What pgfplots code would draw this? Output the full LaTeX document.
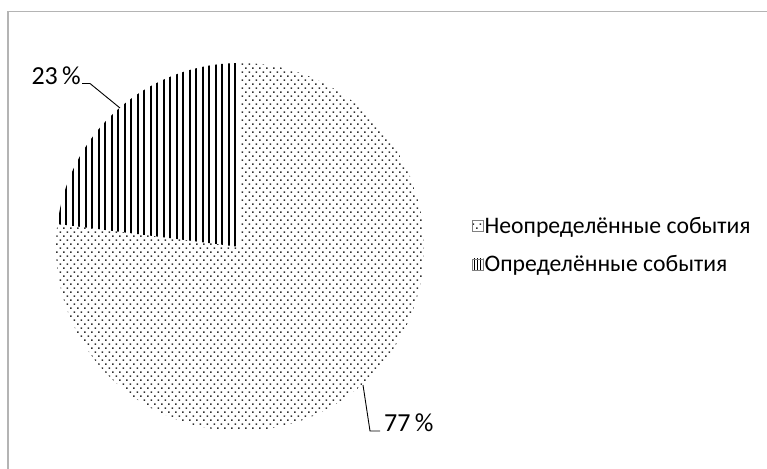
\documentclass[border=0pt]{standalone}
\usepackage{pgfplots}
\pgfplotsset{compat=1.18}
\usepackage{pgfplotstable}
\usepackage{fontspec}
\setmainfont{Carlito}
\usetikzlibrary{patterns}

% pie data (percent)
\pgfplotstableread{
name value
undef 77
def 23
}\piedata

% Excel-like fill patterns
\pgfdeclarepatternformonly{xldots}{\pgfqpoint{-1bp}{-1bp}}{\pgfqpoint{8bp}{9bp}}{\pgfqpoint{7bp}{8bp}}{%
  \pgfpathrectangle{\pgfqpoint{0bp}{0bp}}{\pgfqpoint{1.5bp}{1.5bp}}%
  \pgfpathrectangle{\pgfqpoint{3.5bp}{4bp}}{\pgfqpoint{1.5bp}{1.5bp}}%
  \pgfusepath{fill}}
\pgfdeclarepatternformonly{xlvlines}{\pgfqpoint{0bp}{-0.5bp}}{\pgfqpoint{6.5bp}{1.5bp}}{\pgfqpoint{6.5bp}{1bp}}{%
  \pgfpathrectangle{\pgfqpoint{0bp}{-0.2bp}}{\pgfqpoint{2bp}{1.4bp}}%
  \pgfusepath{fill}}
\pgfdeclarepatternformonly{xlvlinessmall}{\pgfqpoint{0bp}{-0.5bp}}{\pgfqpoint{3bp}{1.5bp}}{\pgfqpoint{3bp}{1bp}}{%
  \pgfpathrectangle{\pgfqpoint{0bp}{-0.2bp}}{\pgfqpoint{1bp}{1.4bp}}%
  \pgfusepath{fill}}

\definecolor{framegray}{HTML}{B4B4B4}
\definecolor{dotgray}{HTML}{303030}

\begin{document}
\begin{tikzpicture}
\useasboundingbox (0,0) rectangle (767bp,469bp);
\begin{axis}[
    at={(0,0)}, anchor=origin,
    scale only axis,
    width=767bp, height=469bp,
    xmin=0, xmax=767, ymin=0, ymax=469,
    hide axis,
    clip=false,
    font=\fontsize{26bp}{29bp}\selectfont,
    legend image code/.code={\draw[#1] (0bp,-5.5bp) rectangle (11bp,5.5bp);},
    legend style={draw=none, fill=none, at={(axis cs:472,224)}, anchor=west,
        inner sep=0pt, row sep=19bp, font=\fontsize{23.7bp}{27bp}\selectfont,
        nodes={inner sep=1bp}},
    legend cell align=left,
]
% frame (only top and left edges fall inside the picture)
\draw[framegray, line width=1.5bp] (axis cs:8,0) -- (axis cs:8,457.5) -- (axis cs:767,457.5);

\pgfplotstablegetelem{0}{value}\of\piedata \let\valA\pgfplotsretval
\pgfplotstablegetelem{1}{value}\of\piedata \let\valB\pgfplotsretval
\pgfmathsetmacro{\angA}{90-3.6*\valA}

% first slice clockwise from 12 o'clock
\fill[pattern=xldots, pattern color=dotgray] (axis cs:240,222) -- ++(90:184bp)
    arc[start angle=90, end angle=\angA, radius=184bp] -- cycle;
% second slice
\fill[pattern=xlvlines, pattern color=black] (axis cs:240,222) -- ++(\angA:184bp)
    arc[start angle=\angA, end angle=-270, radius=184bp] -- cycle;

% data labels with leader lines
\draw[black, line width=0.9bp] (axis cs:120,361) -- (axis cs:90,385.5) -- (axis cs:82,385.5);
\node[anchor=base east, inner sep=0pt] at (axis cs:81,384.5) {\valB\,\%};
\draw[black, line width=0.9bp] (axis cs:363,84) -- (axis cs:370,38) -- (axis cs:380,38);
\node[anchor=base west, inner sep=0pt] at (axis cs:384,37.5) {\valA\,\%};

\addlegendimage{pattern=xldots, pattern color=dotgray, draw=gray}
\addlegendentry{Неопределённые события}
\addlegendimage{pattern=xlvlinessmall, pattern color=black, draw=gray}
\addlegendentry{Определённые события}
\end{axis}
\end{tikzpicture}
\end{document}
